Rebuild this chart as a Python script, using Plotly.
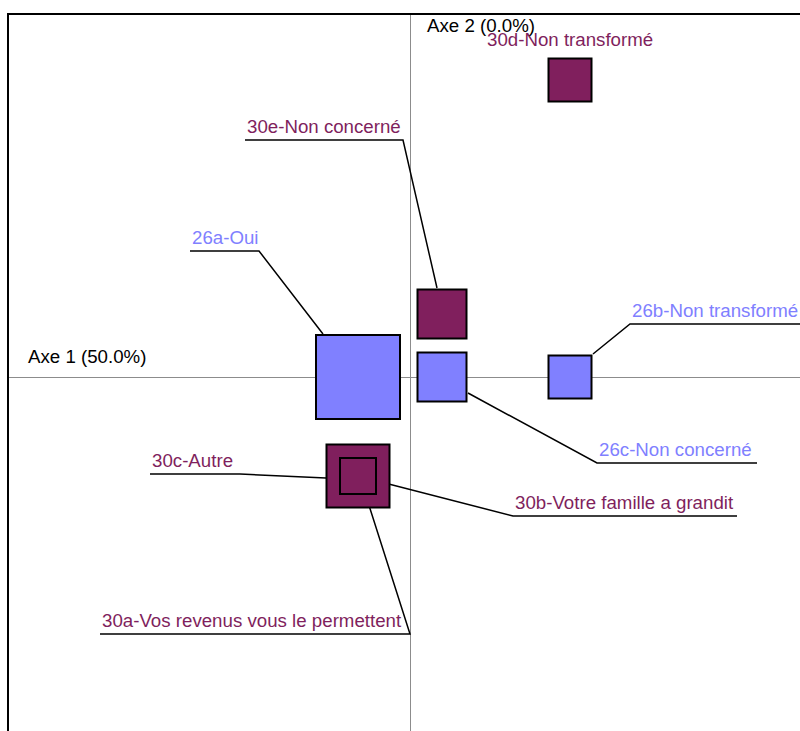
import plotly.graph_objects as go

# modalites (coordonnees sur les axes 1 et 2)
labels = ["26a-Oui", "30c-Autre", "26c-Non concerné", "30e-Non concerné",
          "26b-Non transformé", "30d-Non transformé",
          "30a-Vos revenus vous le permettent", "30b-Votre famille a grandit"]
groupe = ["26", "30", "26", "30", "26", "30", "30", "30"]
axe1 = [-0.52, -0.52, 0.32, 0.32, 1.60, 1.60, -0.52, -0.52]
axe2 = [0.00, -0.99, 0.00, 0.63, 0.00, 2.97, -0.99, -0.99]
poids = [84, 63, 49, 49, 43, 43, 36, 36]

# etiquettes : depart du trait, coude, fin du soulignement
trait_x = [-0.87, -0.84, 0.58, 0.27, 1.83, None, -0.44, -0.33]
trait_y = [0.43, -1.01, -0.16, 0.89, 0.23, None, -1.19, -1.04]
coude_x = [-1.51, -1.70, 1.87, -0.07, 2.20, None, 0.00, 1.03]
coude_y = [1.26, -0.97, -0.86, 2.37, 0.53, None, -2.57, -1.39]
fin_x = [-2.20, -2.60, 3.47, -1.65, 3.95, None, -3.10, 3.27]

couleurs = {"26": "#8080FF", "30": "#801F5D"}

fig = go.Figure()

# traits de rappel
for i in range(len(labels)):
    if trait_x[i] is None:
        continue
    fig.add_trace(go.Scatter(
        x=[trait_x[i], coude_x[i], fin_x[i]],
        y=[trait_y[i], coude_y[i], coude_y[i]],
        mode="lines", line=dict(color="black", width=1.5),
        hoverinfo="skip", showlegend=False))

fig.add_trace(go.Scatter(
    x=axe1, y=axe2, mode="markers", text=labels, hoverinfo="text",
    marker=dict(symbol="square", size=poids, opacity=1,
                color=[couleurs[g] for g in groupe],
                line=dict(color="black", width=2)),
    showlegend=False))

police = dict(family="Liberation Sans, Arial, sans-serif", size=18.7)

for i in range(len(labels)):
    c = couleurs[groupe[i]]
    if trait_x[i] is None:
        fig.add_annotation(x=axe1[i], y=axe2[i], text=labels[i], showarrow=False,
                           xanchor="center", yanchor="bottom", yshift=poids[i] / 2 + 8,
                           font=dict(color=c, **police), borderpad=0)
        continue
    gauche = min(coude_x[i], fin_x[i])
    fig.add_annotation(x=gauche, y=coude_y[i], text=labels[i], showarrow=False,
                       xanchor="left", yanchor="bottom", xshift=1, yshift=2,
                       font=dict(color=c, **police), borderpad=0)

fig.add_annotation(x=-3.83, y=0, text="Axe 1 (50.0%)", showarrow=False,
                   xanchor="left", yanchor="bottom", yshift=9,
                   font=dict(color="black", **police), borderpad=0)
fig.add_annotation(x=0, y=1, yref="paper", text="Axe 2 (0.0%)", showarrow=False,
                   xanchor="left", yanchor="top", xshift=16, yshift=1,
                   font=dict(color="black", **police), borderpad=0)

fig.update_xaxes(range=[-4.01, 3.90], showgrid=False, showticklabels=False, ticks="",
                 zeroline=True, zerolinecolor="#8c8c8c", zerolinewidth=1,
                 showline=True, side="top", linecolor="black", linewidth=2)
fig.update_yaxes(range=[-3.54, 3.62], showgrid=False, showticklabels=False, ticks="",
                 zeroline=True, zerolinecolor="#8c8c8c", zerolinewidth=1,
                 showline=True, linecolor="black", linewidth=2)
fig.update_layout(width=800, height=731, margin=dict(l=9, r=0, t=15, b=0),
                  plot_bgcolor="white", paper_bgcolor="white")

# pas de marge de page autour du graphique, pas de barre d'outils
fig.write_html("out.html", config={"displayModeBar": False},
               post_script="document.body.style.margin='0';")
